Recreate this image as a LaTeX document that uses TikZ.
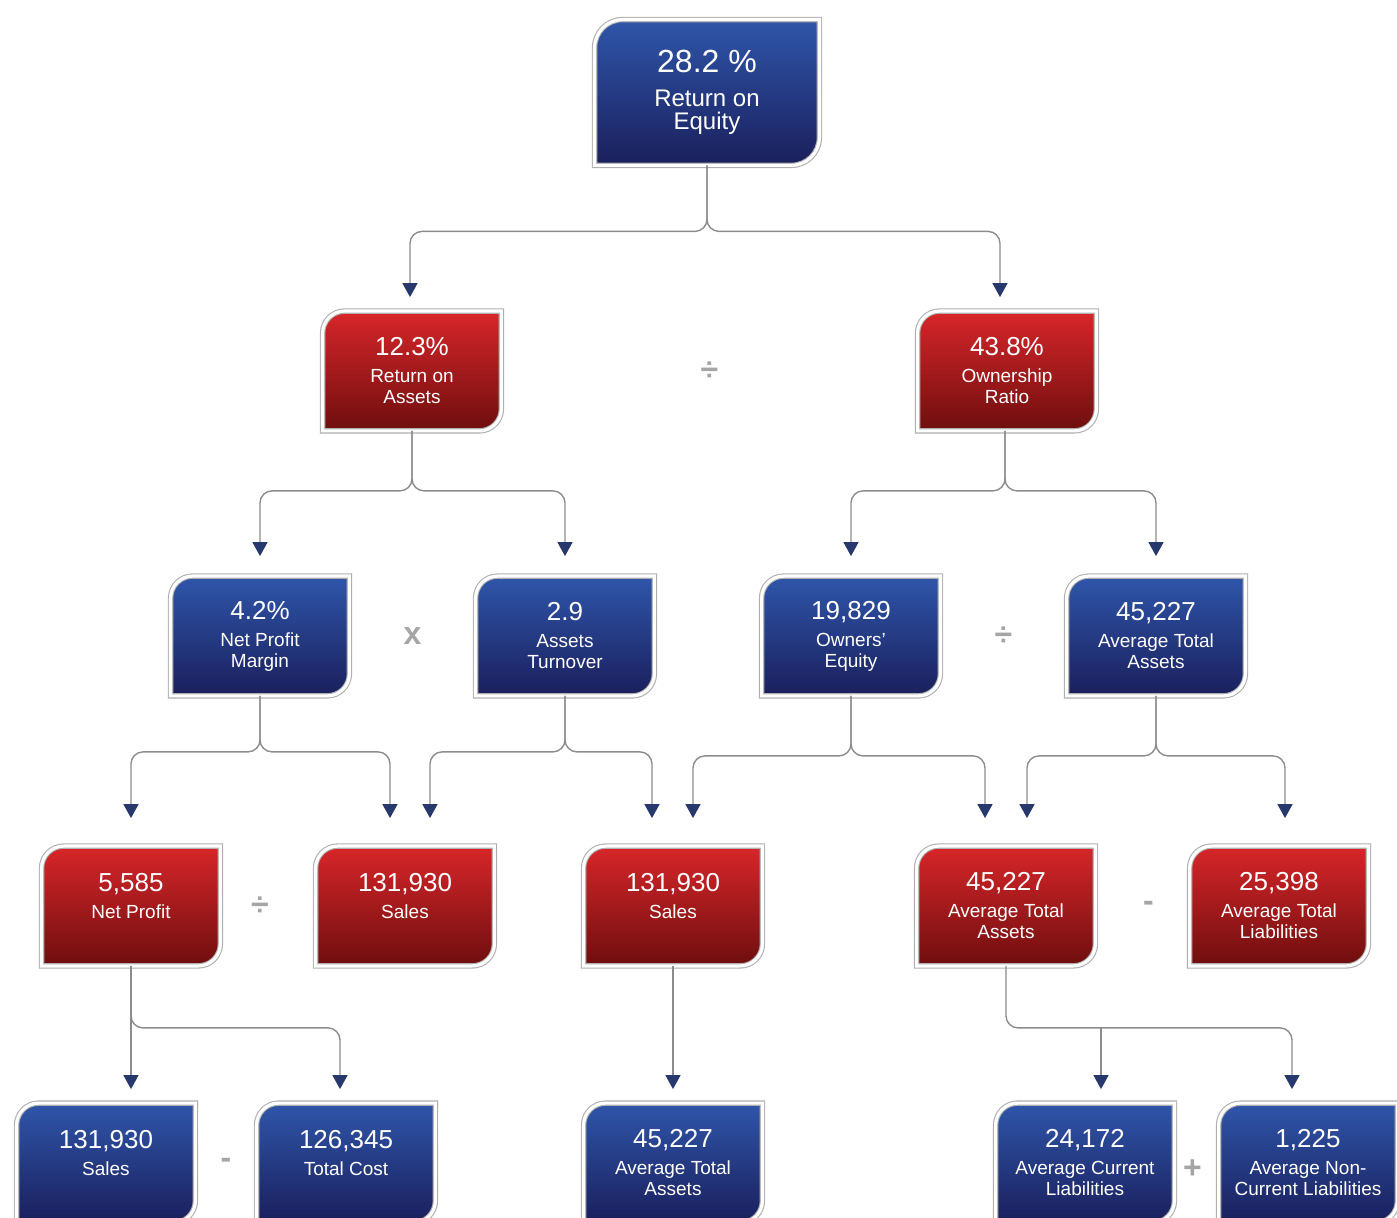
\documentclass[tikz,border=0pt]{standalone}
\usepackage{fontspec}
\setmainfont{Liberation Sans}
\usepackage{tikz}
\usetikzlibrary{shapes,arrows.meta,positioning,calc,backgrounds}
\usepackage{xcolor}
\definecolor{bluetop}{HTML}{2F56AA}
\definecolor{bluebot}{HTML}{1A1F5C}
\definecolor{redtop}{HTML}{D8262A}
\definecolor{redbot}{HTML}{6E0E0E}
\definecolor{linegray}{HTML}{8C8C8C}
\definecolor{tipblue}{HTML}{26386C}
\definecolor{opgray}{HTML}{A5A5A5}

\newcommand{\val}[1]{{\fontsize{13}{13}\selectfont #1}}
\newcommand{\bigval}[1]{{\fontsize{16}{16}\selectfont #1}}

\begin{document}
\begin{tikzpicture}[
    on grid,
    tile/.style 2 args={append after command={\pgfextra{\begin{pgfonlayer}{background}
        \draw[boxline, #1, rounded corners=#2] (\tikzlastnode.west) -- (\tikzlastnode.north west) -- (\tikzlastnode.north)
            [sharp corners] -- (\tikzlastnode.north east) -- (\tikzlastnode.east)
            [rounded corners=#2] -- (\tikzlastnode.south east) -- (\tikzlastnode.south)
            [sharp corners] -- (\tikzlastnode.south west) -- cycle;
        \end{pgfonlayer}}}},
    box/.style={rectangle, minimum width=89pt, minimum height=59.5pt, inner sep=0pt, text=white, align=center, font=\fontsize{9.5}{10.5}\selectfont},
    bluebox/.style={box, tile={blueshade}{11pt}},
    redbox/.style={box, tile={redshade}{11pt}},
    rootbox/.style={box, minimum width=112pt, minimum height=72.5pt, font=\fontsize{12}{11.5}\selectfont, tile={blueshade}{14pt}},
    boxline/.style={draw=linegray!70, double=white, double distance=1.6pt, line width=0.55pt},
    blueshade/.style={top color=bluetop, bottom color=bluebot},
    redshade/.style={top color=redtop, bottom color=redbot},
    op/.style={text=opgray, font=\fontsize{16}{16}\selectfont\bfseries},
    arrow/.style={draw=linegray, line width=0.7pt, rounded corners=6pt, -{Triangle[width=7.5pt, length=7pt, color=tipblue]}}
]
\useasboundingbox (-353.5pt,46.25pt) rectangle (345pt,-562.75pt);

% top
\node[rootbox] (roe) at (0,0) {\bigval{28.2 \%}\\[5.5pt]Return on\\Equity};

% level 2
\node[redbox, below left=139.25pt and 147.5pt of roe] (roa) {\val{12.3\%}\\[3pt]Return on\\Assets};
\node[redbox, below right=139.25pt and 150pt of roe] (own) {\val{43.8\%}\\[3pt]Ownership\\Ratio};

% level 3
\node[bluebox, below left=132.5pt and 76pt of roa] (npm) {\val{4.2\%}\\[3pt]Net Profit\\Margin};
\node[bluebox, right=152.5pt of npm] (at) {\val{2.9}\\[3pt]Assets\\Turnover};
\node[bluebox, right=143pt of at] (oe) {\val{19,829}\\[3pt]Owners'\\Equity};
\node[bluebox, right=152.5pt of oe] (ata) {\val{45,227}\\[3pt]Average Total\\Assets};

% level 4
\node[redbox, below left=135pt and 64.5pt of npm] (np) {\val{5,585}\\[3pt]Net Profit\\\mbox{}};
\node[redbox, right=137pt of np] (s1) {\val{131,930}\\[3pt]Sales\\\mbox{}};
\node[redbox, right=134pt of s1] (s2) {\val{131,930}\\[3pt]Sales\\\mbox{}};
\node[redbox, right=166.5pt of s2] (ata2) {\val{45,227}\\[3pt]Average Total\\Assets};
\node[redbox, right=136.5pt of ata2] (atl) {\val{25,398}\\[3pt]Average Total\\Liabilities};

% level 5
\node[bluebox, below left=128.5pt and 12.5pt of np] (s3) {\val{131,930}\\[3pt]Sales\\\mbox{}};
\node[bluebox, right=120pt of s3] (tc) {\val{126,345}\\[3pt]Total Cost\\\mbox{}};
\node[bluebox, below=128.5pt of s2] (ata3) {\val{45,227}\\[3pt]Average Total\\Assets};
\node[bluebox, below right=128.5pt and 39.5pt of ata2] (acl) {\val{24,172}\\[3pt]Average Current\\Liabilities};
\node[bluebox, right=111.5pt of acl] (ancl) {\val{1,225}\\[3pt]Average Non-\\Current Liabilities};

% operators
\node[op] (div1) at ($(roa)!0.5!(own)$) {÷};
\node[op] (times1) at ($(npm)!0.5!(at)$) {x};
\node[op] (div2) at ($(oe)!0.5!(ata)$) {÷};
\node[op] (div3) at ($(np)!0.5!(s1)+(-4pt,0)$) {÷};
\node[op] (minus1) at ($(ata2)!0.5!(atl)+(3pt,0)$) {-};
\node[op] (minus2) at ($(s3)!0.5!(tc)$) {-};
\node[op] (plus1) at ($(acl)!0.5!(ancl)+(-2pt,-3pt)$) {+};

% connectors
\draw[arrow, shorten >=7pt] (roe.south) -- ++(0,-33pt) -| ([xshift=-1pt]roa.north);
\draw[arrow, shorten >=7pt] (roe.south) -- ++(0,-33pt) -| ([xshift=-3.5pt]own.north);
\draw[arrow, shorten >=10pt] (roa.south) -- ++(0,-30pt) -| (npm.north);
\draw[arrow, shorten >=10pt] (roa.south) -- ++(0,-30pt) -| (at.north);
\draw[arrow, shorten >=10pt] ([xshift=-1pt]own.south) -- ++(0,-30pt) -| (oe.north);
\draw[arrow, shorten >=10pt] ([xshift=-1pt]own.south) -- ++(0,-30pt) -| (ata.north);
\draw[arrow, shorten >=14pt] (npm.south) -- ++(0,-28pt) -| (np.north);
\draw[arrow, shorten >=14pt] (npm.south) -- ++(0,-28pt) -| ([xshift=-7.5pt]s1.north);
\draw[arrow, shorten >=14pt] (at.south) -- ++(0,-28pt) -| ([xshift=12.5pt]s1.north);
\draw[arrow, shorten >=14pt] (at.south) -- ++(0,-28pt) -| ([xshift=-10.5pt]s2.north);
\draw[arrow, shorten >=14pt] (oe.south) -- ++(0,-30pt) -| ([xshift=10pt]s2.north);
\draw[arrow, shorten >=14pt] (oe.south) -- ++(0,-30pt) -| ([xshift=-10.5pt]ata2.north);
\draw[arrow, shorten >=14pt] (ata.south) -- ++(0,-30pt) -| ([xshift=10.5pt]ata2.north);
\draw[arrow, shorten >=14pt] (ata.south) -- ++(0,-30pt) -| ([xshift=3pt]atl.north);
\draw[arrow, shorten >=7pt] (np.south) -- ([xshift=12.5pt]s3.north);
\draw[arrow, shorten >=7pt] (np.south) -- ++(0,-31pt) -| ([xshift=-3pt]tc.north);
\draw[arrow, shorten >=7pt] (s2.south) -- (ata3.north);
\draw[arrow, shorten >=7pt] (ata2.south) -- ++(0,-31pt) coordinate (tj) -| ([xshift=-8pt]ancl.north);
\draw[arrow, shorten >=7pt] ([xshift=8pt]acl.north |- tj) -- ([xshift=8pt]acl.north);
\end{tikzpicture}
\end{document}
